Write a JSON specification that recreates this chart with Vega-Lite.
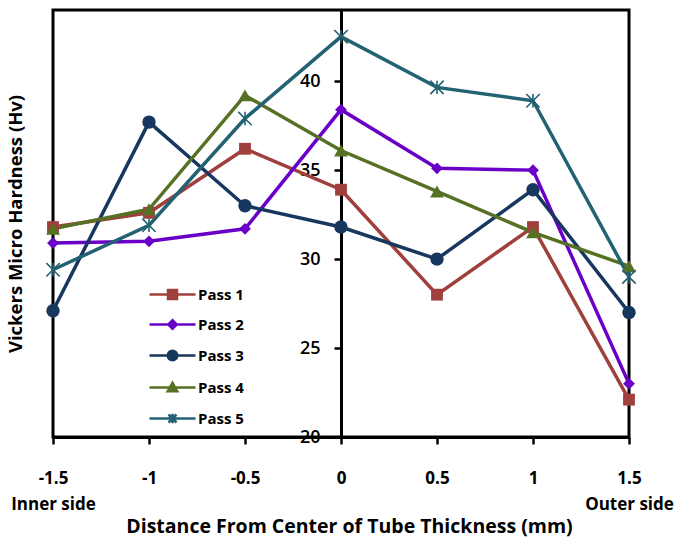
{
  "$schema": "https://vega.github.io/schema/vega-lite/v6.json",
  "width": 576,
  "height": 427,
  "autosize": "none",
  "padding": {"left": 53, "top": 10, "right": 50, "bottom": 102},
  "background": "white",
  "data": {
    "values": [
      {"x": -1.5, "pass": "Pass 1", "hv": 31.8},
      {"x": -1, "pass": "Pass 1", "hv": 32.6},
      {"x": -0.5, "pass": "Pass 1", "hv": 36.2},
      {"x": 0, "pass": "Pass 1", "hv": 33.9},
      {"x": 0.5, "pass": "Pass 1", "hv": 28.0},
      {"x": 1, "pass": "Pass 1", "hv": 31.8},
      {"x": 1.5, "pass": "Pass 1", "hv": 22.1},
      {"x": -1.5, "pass": "Pass 2", "hv": 30.9},
      {"x": -1, "pass": "Pass 2", "hv": 31.0},
      {"x": -0.5, "pass": "Pass 2", "hv": 31.7},
      {"x": 0, "pass": "Pass 2", "hv": 38.4},
      {"x": 0.5, "pass": "Pass 2", "hv": 35.1},
      {"x": 1, "pass": "Pass 2", "hv": 35.0},
      {"x": 1.5, "pass": "Pass 2", "hv": 23.0},
      {"x": -1.5, "pass": "Pass 3", "hv": 27.1},
      {"x": -1, "pass": "Pass 3", "hv": 37.7},
      {"x": -0.5, "pass": "Pass 3", "hv": 33.0},
      {"x": 0, "pass": "Pass 3", "hv": 31.8},
      {"x": 0.5, "pass": "Pass 3", "hv": 30.0},
      {"x": 1, "pass": "Pass 3", "hv": 33.9},
      {"x": 1.5, "pass": "Pass 3", "hv": 27.0},
      {"x": -1.5, "pass": "Pass 4", "hv": 31.7},
      {"x": -1, "pass": "Pass 4", "hv": 32.8},
      {"x": -0.5, "pass": "Pass 4", "hv": 39.2},
      {"x": 0, "pass": "Pass 4", "hv": 36.1},
      {"x": 0.5, "pass": "Pass 4", "hv": 33.8},
      {"x": 1, "pass": "Pass 4", "hv": 31.5},
      {"x": 1.5, "pass": "Pass 4", "hv": 29.6},
      {"x": -1.5, "pass": "Pass 5", "hv": 29.4},
      {"x": -1, "pass": "Pass 5", "hv": 31.9},
      {"x": -0.5, "pass": "Pass 5", "hv": 37.9},
      {"x": 0, "pass": "Pass 5", "hv": 42.5},
      {"x": 0.5, "pass": "Pass 5", "hv": 39.65},
      {"x": 1, "pass": "Pass 5", "hv": 38.9},
      {"x": 1.5, "pass": "Pass 5", "hv": 29.0}
    ]
  },
  "encoding": {
    "x": {
      "field": "x",
      "type": "quantitative",
      "scale": {"domain": [-1.5, 1.5], "nice": false, "zero": false},
      "axis": {
        "title": "Distance From Center of Tube Thickness (mm)",
        "values": [-1.5, -1, -0.5, 0, 0.5, 1, 1.5],
        "labelExpr": "datum.value == -1.5 ? ['-1.5', 'Inner side'] : datum.value == 1.5 ? ['1.5', 'Outer side'] : datum.value == -1 ? '-1' : datum.value == -0.5 ? '-0.5' : datum.value == 0 ? '0' : datum.value == 0.5 ? '0.5' : '1'",
        "labelFontSize": 17,
        "labelFontWeight": "bold",
        "labelLineHeight": 26,
        "labelPadding": 26,
        "labelFlush": false,
        "labelOverlap": false,
        "tickSize": 7,
        "tickWidth": 2.5,
        "domainWidth": 3,
        "titleFontSize": 19.5,
        "titleFontWeight": "bold",
        "titleX": 296,
        "titleY": 95,
        "titleAlign": "center",
        "titleBaseline": "alphabetic"
      }
    },
    "y": {
      "field": "hv",
      "type": "quantitative",
      "scale": {"domain": [20, 44], "nice": false, "zero": false},
      "axis": {
        "title": "Vickers Micro Hardness (Hv)",
        "values": [20, 25, 30, 35, 40],
        "offset": -288,
        "labelFontSize": 18,
        "labelFontWeight": 600,
        "labelPadding": 14,
        "tickSize": 7,
        "tickWidth": 2.5,
        "domainWidth": 3,
        "titleFontSize": 18.5,
        "titleFontWeight": "bold",
        "titleX": -326,
        "titleY": 213.5,
        "titleAngle": -90,
        "titleAlign": "center",
        "titleBaseline": "middle"
      }
    },
    "color": {
      "field": "pass",
      "type": "nominal",
      "scale": {"domain": ["Pass 1", "Pass 2", "Pass 3", "Pass 4", "Pass 5"], "range": ["#A0403C", "#6A00C8", "#17375E", "#567024", "#226272"]},
      "legend": {
        "title": null,
        "orient": "none",
        "legendX": 112,
        "legendY": 277,
        "padding": 0,
        "rowPadding": 11,
        "labelFontSize": 15,
        "labelFontWeight": "bold",
        "labelColor": "black",
        "labelOffset": 18,
        "symbolSize": 100,
        "encode": {
          "symbols": {
            "update": {
              "shape": {"signal": "datum.value == 'Pass 1' ? 'M-4.6,0H4.6M-0.9,-0.9H0.9V0.9H-0.9Z' : datum.value == 'Pass 2' ? 'M-4.6,0H4.6M0,-0.85L0.85,0L0,0.85L-0.85,0Z' : datum.value == 'Pass 3' ? 'M-4.6,0H4.6M-0.95,0A0.95,0.95 0 1,0 0.95,0A0.95,0.95 0 1,0 -0.95,0Z' : datum.value == 'Pass 4' ? 'M-4.6,0H4.6M0,-0.95L0.95,0.75L-0.95,0.75Z' : 'M-4.6,0H4.6M-0.8,-0.8L0.8,0.8M-0.8,0.8L0.8,-0.8M0,-0.95V0.95'"},
              "fill": {"signal": "datum.value == 'Pass 1' ? '#A0403C' : datum.value == 'Pass 2' ? '#6A00C8' : datum.value == 'Pass 3' ? '#17375E' : datum.value == 'Pass 4' ? '#567024' : '#226272'"},
              "stroke": {"signal": "datum.value == 'Pass 1' ? '#A0403C' : datum.value == 'Pass 2' ? '#6A00C8' : datum.value == 'Pass 3' ? '#17375E' : datum.value == 'Pass 4' ? '#567024' : '#226272'"},
              "size": {"value": 100},
              "strokeWidth": {"value": 2.5},
              "opacity": {"value": 1},
              "fillOpacity": {"value": 1}
            }
          }
        }
      }
    }
  },
  "layer": [
    {
      "mark": {"type": "line", "strokeWidth": 3.5}
    },
    {
      "transform": [{"filter": "datum.pass == 'Pass 1'"}],
      "mark": {"type": "point", "filled": true, "opacity": 1, "shape": "square", "size": 140}
    },
    {
      "transform": [{"filter": "datum.pass == 'Pass 2'"}],
      "mark": {"type": "point", "filled": true, "opacity": 1, "shape": "diamond", "size": 140}
    },
    {
      "transform": [{"filter": "datum.pass == 'Pass 3'"}],
      "mark": {"type": "point", "filled": true, "opacity": 1, "shape": "circle", "size": 180}
    },
    {
      "transform": [{"filter": "datum.pass == 'Pass 4'"}],
      "mark": {"type": "point", "filled": true, "opacity": 1, "shape": "triangle-up", "size": 190}
    },
    {
      "transform": [{"filter": "datum.pass == 'Pass 5'"}],
      "mark": {"type": "point", "filled": false, "opacity": 1, "strokeWidth": 1.6, "shape": "M-1,-1L1,1M-1,1L1,-1M0,-1L0,1", "size": 180}
    }
  ],
  "config": {
    "font": "Open Sans",
    "view": {"stroke": "black", "strokeWidth": 3},
    "axis": {
      "grid": false,
      "domainColor": "black",
      "tickColor": "black",
      "labelColor": "black",
      "titleColor": "black"
    }
  }
}
